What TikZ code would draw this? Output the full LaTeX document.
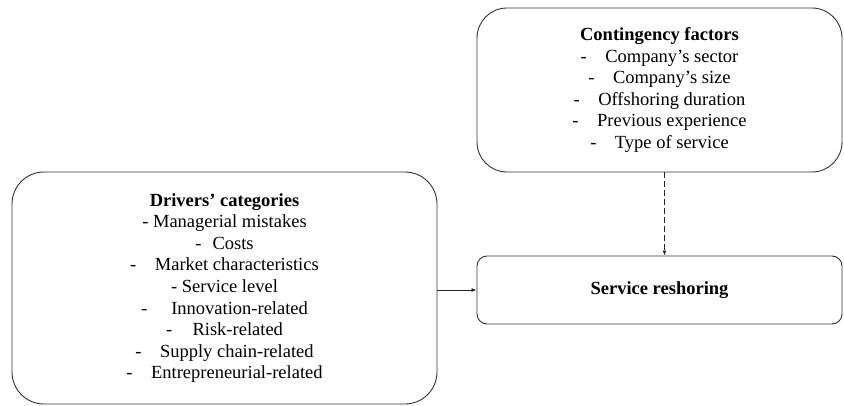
\documentclass[tikz,border=0pt]{standalone}
\usepackage{fontspec}
\setmainfont{Liberation Serif}
\usetikzlibrary{positioning,arrows.meta}

\begin{document}
\begin{tikzpicture}[x=1pt,y=1pt,
  box/.style={draw=black!80, line width=0.9pt, rounded corners=#1, align=center,
    inner sep=0pt, font=\fontsize{18.5}{21.6}\selectfont},
  box/.default=30pt,
  arr/.style={-{Latex[length=5pt,width=4pt]}, draw=black!85, line width=0.8pt}]
\useasboundingbox (0,0) rectangle (844,405);
% boxes
\node[box, minimum width=365, minimum height=164] (factors) at (659.5,315) {\textbf{Contingency factors}\\
  -\quad Company’s sector\\
  -\quad Company’s size\\
  -\quad Offshoring duration\\
  -\quad Previous experience\\
  -\quad Type of service};
\node[box=32pt, minimum width=425, minimum height=232] (drivers) at (224.5,117) {\textbf{Drivers’ categories}\\
  - Managerial mistakes\\
  -\hspace{0.6em}Costs\\
  -\quad Market characteristics\\
  - Service level\\
  -\hspace{1.3em}Innovation-related\\
  -\hspace{1.1em}Risk-related\\
  -\quad Supply chain-related\\
  -\quad Entrepreneurial-related};
\node[box=10pt, minimum width=365, minimum height=68] (reshoring) at (659.5,115) {\textbf{Service reshoring}};
% links
\draw[arr] (reshoring.west -| drivers.east) -- (reshoring.west);
\draw[arr, dashed, dash pattern=on 6pt off 3pt] ([xshift=5pt]factors.south) -- ([xshift=5pt]factors.south |- reshoring.north);
\end{tikzpicture}
\end{document}
